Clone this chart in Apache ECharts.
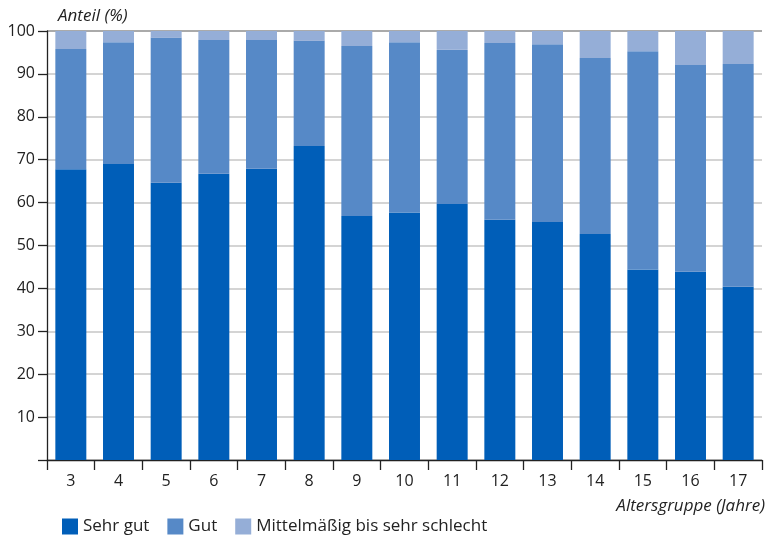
<!DOCTYPE html>
<html>
<head>
<meta charset="utf-8">
<script src="https://cdn.jsdelivr.net/npm/echarts@6/dist/echarts.min.js"></script>
<style>
  html, body { margin: 0; padding: 0; background: #fff; }
  #chart { width: 768px; height: 537px; }
</style>
</head>
<body>
<div id="chart"></div>
<script>
const categories = ['3','4','5','6','7','8','9','10','11','12','13','14','15','16','17'];
const sehrGut = [67.8, 69.0, 64.6, 66.7, 67.9, 73.2, 56.9, 57.7, 59.7, 56.0, 55.5, 52.7, 44.4, 43.9, 40.4];
const gut     = [28.0, 28.4, 33.8, 31.2, 30.0, 24.5, 39.6, 39.7, 35.9, 41.2, 41.4, 41.0, 50.9, 48.2, 51.9];
const mittel  = [4.2, 2.6, 1.6, 2.1, 2.1, 2.3, 3.5, 2.6, 4.4, 2.8, 3.1, 6.3, 4.7, 7.9, 7.7];
const seriesNames = ['Sehr gut', 'Gut', 'Mittelmäßig bis sehr schlecht'];
const colors = ['#005EB8', '#5689C7', '#95AED7'];

const font = 'Open Sans';
const chart = echarts.init(document.getElementById('chart'));
const gridColors = ['#d4d4d4','#d4d4d4','#d4d4d4','#d4d4d4','#d4d4d4','#d4d4d4','#d4d4d4','#d4d4d4','#d4d4d4','#d4d4d4','#aaaaaa'];

chart.setOption({
  animation: false,
  color: colors,
  textStyle: { fontFamily: font, color: '#222' },
  grid: { left: 47, right: 6, top: 31, bottom: 77, containLabel: false },
  legend: {
    left: 57, top: 513,
    icon: 'rect', itemWidth: 16, itemHeight: 16, itemGap: 18,
    textStyle: { fontFamily: font, fontSize: 17, color: '#222' },
    data: seriesNames
  },
  xAxis: {
    type: 'category',
    data: categories,
    boundaryGap: true,
    axisLine: { lineStyle: { color: '#222', width: 1.3 } },
    axisTick: { show: true, length: 10, alignWithLabel: false, lineStyle: { color: '#222', width: 1.3 } },
    axisLabel: { fontFamily: font, fontSize: 16, color: '#222', margin: 13 },
    name: 'Altersgruppe (Jahre)',
    nameLocation: 'end',
    nameGap: 3,
    nameTextStyle: { fontFamily: font, fontSize: 17, fontStyle: 'italic', color: '#222', align: 'right', verticalAlign: 'top', padding: [38, 0, 0, 0] }
  },
  yAxis: {
    type: 'value',
    min: 0, max: 100, interval: 10,
    axisLine: { show: true, lineStyle: { color: '#222', width: 1.3 } },
    axisTick: { show: true, length: 9, lineStyle: { color: '#222', width: 1.3 } },
    axisLabel: { fontFamily: font, fontSize: 16, color: '#222', margin: 12, formatter: v => v === 0 ? '' : String(v) },
    splitLine: { show: true, lineStyle: { color: gridColors, width: 2 } },
    name: 'Anteil (%)',
    nameLocation: 'end',
    nameGap: 6,
    nameTextStyle: { fontFamily: font, fontSize: 17, fontStyle: 'italic', color: '#222', align: 'left', verticalAlign: 'bottom', padding: [0, 0, 0, 11] }
  },
  series: [
    { name: seriesNames[0], type: 'bar', stack: 'a', data: sehrGut, barWidth: '65%' },
    { name: seriesNames[1], type: 'bar', stack: 'a', data: gut, barWidth: '65%' },
    { name: seriesNames[2], type: 'bar', stack: 'a', data: mittel, barWidth: '65%' }
  ]
});
</script>
</body>
</html>
